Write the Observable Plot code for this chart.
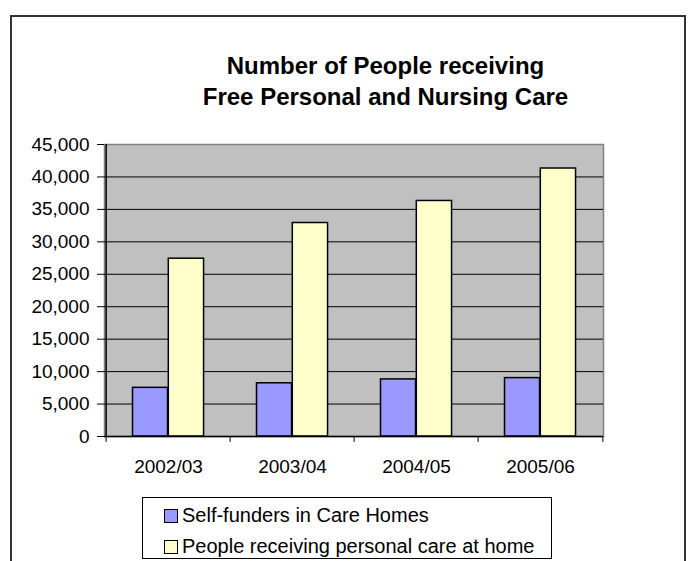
<!DOCTYPE html>
<html>
<head>
<meta charset="utf-8">
<script src="https://cdn.jsdelivr.net/npm/d3@7"></script>
<script src="https://cdn.jsdelivr.net/npm/@observablehq/plot@0.6"></script>
<style>
  html, body { margin: 0; padding: 0; background: #fff; }
  #wrap { position: relative; width: 689px; height: 561px; overflow: hidden; background: #fff;
          font-family: "Liberation Sans", Arial, sans-serif; color: #000; }
  #border { position: absolute; left: 10px; top: 15px; width: 676px; height: 620px;
            box-sizing: border-box; border: 2px solid #333; }
  #chart { position: absolute; left: 0; top: 0; }
  #title { position: absolute; left: 185px; top: 50px; width: 401px; text-align: center;
           font-weight: bold; font-size: 24px; line-height: 31px; }
  #legend { position: absolute; left: 142px; top: 497px; width: 410px; height: 62px;
            box-sizing: border-box; border: 1px solid #000; background: #fff; }
  .row { position: absolute; left: 0; height: 31px; display: flex; align-items: center; font-size: 20px; }
  .sw { width: 14px; height: 14px; box-sizing: border-box; border: 1.5px solid #000; margin-left: 21px; margin-right: 4px; }
</style>
</head>
<body>
<div id="wrap">
  <div id="border"></div>
  <div id="chart"></div>
  <div id="title">Number of People receiving<br>Free Personal and Nursing Care</div>
  <div id="legend"></div>
</div>
<script>
const years = ["2002/03", "2003/04", "2004/05", "2005/06"];
const seriesNames = ["Self-funders in Care Homes", "People receiving personal care at home"];
const selfFunders = [7500, 8200, 8800, 9000];
const homeCare = [27400, 32900, 36300, 41300];
const yTicks = [0, 5000, 10000, 15000, 20000, 25000, 30000, 35000, 40000, 45000];
const colors = ["#9999FF", "#FFFFCC"];

const selfData = years.map((y, i) => ({year: y, series: seriesNames[0], value: selfFunders[i]}));
const homeData = years.map((y, i) => ({year: y, series: seriesNames[1], value: homeCare[i]}));

const W = 689, H = 490, mL = 104, mR = 86, mT = 144, mB = 54;
const bw = (W - mL - mR) / years.length;
const plotH = H - mT - mB;

const chart = Plot.plot({
  width: W, height: H,
  marginLeft: mL, marginRight: mR, marginTop: mT, marginBottom: mB,
  style: {fontFamily: '"Liberation Sans", Arial, sans-serif', fontSize: "19px", color: "#000", background: "transparent", overflow: "visible"},
  x: {domain: years, padding: 0, label: null},
  y: {domain: [0, 45000], label: null},
  marks: [
    Plot.frame({fill: "#C0C0C0", stroke: "#808080", strokeWidth: 1.5}),
    Plot.ruleY(yTicks.filter(d => d > 0 && d < 45000), {stroke: "#000", strokeWidth: 1}),
    Plot.barY(selfData, {x: "year", y: "value", fill: colors[0], stroke: "#000", strokeWidth: 1.5, insetLeft: 26.5, insetRight: bw - 62.3}),
    Plot.barY(homeData, {x: "year", y: "value", fill: colors[1], stroke: "#000", strokeWidth: 1.5, insetLeft: 62.3, insetRight: bw - 98.3}),
    Plot.ruleY([0], {stroke: "#000", strokeWidth: 1.5}),
    Plot.ruleX([years[0]], {dx: -bw / 2, stroke: "#000", strokeWidth: 1.5}),
    Plot.ruleX(years, {dx: -bw / 2, stroke: "#000", strokeWidth: 1, insetTop: plotH, insetBottom: -6}),
    Plot.ruleX([years[years.length - 1]], {dx: bw / 2, stroke: "#000", strokeWidth: 1, insetTop: plotH, insetBottom: -6}),
    Plot.axisY({ticks: yTicks, tickFormat: d3.format(","), tickSize: 7, tickPadding: 8, label: null, fontSize: 19}),
    Plot.axisX({tickSize: 0, tickPadding: 23, label: null, fontSize: 19})
  ]
});
document.getElementById("chart").appendChild(chart);

const legend = document.getElementById("legend");
seriesNames.forEach((name, i) => {
  const row = document.createElement("div");
  row.className = "row";
  row.style.top = (2 + i * 31) + "px";
  const sw = document.createElement("div");
  sw.className = "sw";
  sw.style.background = colors[i];
  const t = document.createElement("span");
  t.textContent = name;
  row.appendChild(sw);
  row.appendChild(t);
  legend.appendChild(row);
});
</script>
</body>
</html>
